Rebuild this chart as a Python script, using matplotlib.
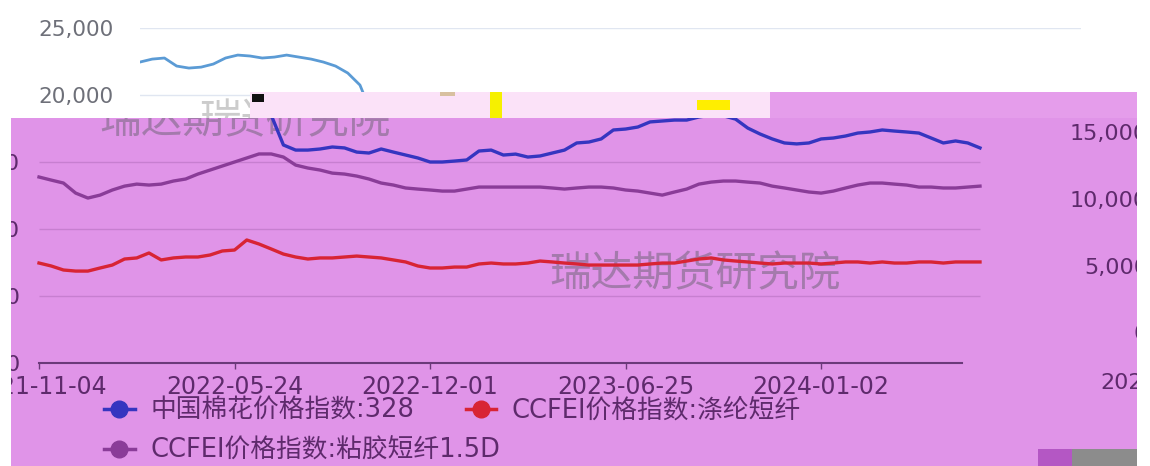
import matplotlib
matplotlib.use("Agg")
import matplotlib.pyplot as plt
from matplotlib.lines import Line2D
from matplotlib.patches import Rectangle
from matplotlib.ticker import FuncFormatter

plt.rcParams['font.family'] = ['DejaVu Sans', 'Noto Sans CJK SC']

# x axis is a category axis: one label every 16 points
tick_labels = ["2021-11-04", "2022-05-24", "2022-12-01", "2023-06-25", "2024-01-02"]
tick_step = 16

names = ["中国棉花价格指数:328", "CCFEI价格指数:涤纶短纤", "CCFEI价格指数:粘胶短纤1.5D"]

cotton = [22460, 22680, 22760, 22160, 22010, 22080, 22310, 22760, 22980, 22910,
          22760, 22830, 22980, 22830, 22680, 22460, 22160, 21640, 20740, 18500,
          16270, 15890, 15890, 15970, 16120, 16050, 15740, 15670, 15970, 15740,
          15520, 15300, 15000, 15000, 15070, 15150, 15820, 15890, 15520, 15590,
          15370, 15450, 15670, 15890, 16420, 16490, 16720, 17390, 17460, 17610,
          17990, 18060, 18130, 18130, 18360, 18500, 18450, 18200, 17530, 17090,
          16720, 16420, 16350, 16420, 16720, 16790, 16940, 17160, 17240, 17390,
          17310, 17240, 17160, 16790, 16420, 16570, 16420, 16050]

polyester = [7460, 7240, 6940, 6860, 6860, 7090, 7310, 7760, 7840, 8210,
             7690, 7840, 7910, 7910, 8060, 8360, 8430, 9180, 8880, 8510,
             8130, 7910, 7760, 7840, 7840, 7910, 7980, 7910, 7840, 7690,
             7540, 7240, 7090, 7090, 7160, 7160, 7390, 7460, 7390, 7390,
             7460, 7610, 7540, 7460, 7390, 7310, 7310, 7310, 7310, 7310,
             7390, 7460, 7460, 7610, 7760, 7840, 7690, 7610, 7540, 7460,
             7390, 7460, 7460, 7460, 7390, 7460, 7540, 7540, 7460, 7540,
             7460, 7460, 7540, 7540, 7460, 7540, 7540, 7540]

viscose = [13880, 13650, 13430, 12680, 12310, 12530, 12910, 13200, 13350, 13280,
           13350, 13580, 13730, 14100, 14400, 14700, 15000, 15300, 15600, 15600,
           15370, 14770, 14550, 14400, 14170, 14100, 13950, 13730, 13430, 13280,
           13060, 12980, 12910, 12830, 12830, 12980, 13130, 13130, 13130, 13130,
           13130, 13130, 13060, 12980, 13060, 13130, 13130, 13060, 12910, 12830,
           12680, 12530, 12760, 12980, 13350, 13500, 13580, 13580, 13500, 13430,
           13200, 13060, 12910, 12760, 12680, 12830, 13060, 13280, 13430, 13430,
           13350, 13280, 13130, 13130, 13060, 13060, 13130, 13200]

W, H = 1150, 466
n = len(cotton)
xs = list(range(n))

VIOLET = '#e094e8'
DARK = '#5e2a6c'
C_BLUE, C_RED, C_PURPLE = '#3535c0', '#d82434', '#8a3c98'


def box(x0, y0, x1, y1):
    # pixel box (y from top) -> figure fraction rect
    return [x0 / W, 1 - y1 / H, (x1 - x0) / W, (y1 - y0) / H]


def patch(fig, x0, y0, x1, y1, color, z=5):
    fig.add_artist(Rectangle((x0 / W, 1 - y1 / H), (x1 - x0) / W, (y1 - y0) / H,
                             transform=fig.transFigure, facecolor=color,
                             edgecolor='none', zorder=z))


fmt = FuncFormatter(lambda v, _: f"{v:,.0f}")
fig = plt.figure(figsize=(W / 100, H / 100), dpi=100)

# ---- original chart (only the top strip is still visible)
left, right, zero_y, top_y = 140, 1081, 363, 28
ax_top = fig.add_axes(box(left, top_y, right, zero_y))
ax_top.set_xlim(0, n - 1)
ax_top.set_ylim(0, 25000)
ax_top.set_yticks(range(0, 25001, 5000))
ax_top.yaxis.set_major_formatter(fmt)
ax_top.set_xticks([])
ax_top.grid(axis='y', color='#e0e6f1', lw=1)
ax_top.tick_params(axis='y', length=0, pad=19, labelsize=15.5, labelcolor='#6e7079')
for s in ax_top.spines.values():
    s.set_visible(False)
ax_top.plot(xs, cotton, color='#5b9bd5', lw=2)
ax_top.plot(xs, polyester, color='#e03030', lw=2)
ax_top.plot(xs, viscose, color='#9a4aa8', lw=2)
fig.text(345 / W, 1 - 122 / H, "瑞达期货研究院", ha='center', va='center',
         fontsize=30, color='#cccccc', family='Noto Sans CJK SC', zorder=0.5)

# ---- violet overlay, shifted copy of the chart
shift = 101
px = (right - left) / (n - 1)
k = (zero_y - top_y) / 25000
x0 = left - shift
ax = fig.add_axes(box(11, 118, 1137, 466), facecolor=VIOLET)
ax.set_zorder(1)
ax.set_xlim((11 - x0) / px, (1137 - x0) / px)
ax.set_ylim((zero_y - 466) / k, (zero_y - 118) / k)
ax.hlines([5000, 10000, 15000], 0, n - 1, color='#c77fd0', lw=1, zorder=1)
ax.plot(xs, cotton, color=C_BLUE, lw=2.4, zorder=3)
ax.plot(xs, polyester, color=C_RED, lw=2.4, zorder=3)
ax.plot(xs, viscose, color=C_PURPLE, lw=2.4, zorder=3)

for s in ['left', 'right', 'top']:
    ax.spines[s].set_visible(False)
ax.spines['bottom'].set_position(('data', 0))
ax.spines['bottom'].set_bounds(0, n - 2.5)
ax.spines['bottom'].set_color('#6b3a7a')
ax.spines['bottom'].set_linewidth(1.5)
ax.set_xticks(range(0, n, tick_step))
ax.set_xticklabels(tick_labels)
ax.tick_params(axis='x', direction='out', length=4, width=1, color='#6b3a7a',
               pad=5, labelsize=17, labelcolor=DARK)
ax.set_yticks([0, 5000, 10000, 15000])
ax.yaxis.set_major_formatter(fmt)
ax.tick_params(axis='y', length=0, pad=-6.5, labelsize=16, labelcolor=DARK)

for cx, cy in [(245, 122), (695, 275)]:
    ax.text(cx / W, 1 - cy / H, "瑞达期货研究院", transform=fig.transFigure,
            ha='center', va='center', fontsize=30, color='#a47aac',
            family='Noto Sans CJK SC', clip_on=True, zorder=2)

# right-hand axis labels (offset copy)
ax_r = ax.twinx()
ax_r.set_zorder(2)
kr = 66.5 / 5000
ax_r.set_ylim((332 - 466) / kr, (332 - 118) / kr)
ax_r.set_yticks([0, 5000, 10000, 15000])
ax_r.yaxis.set_major_formatter(fmt)
ax_r.tick_params(axis='y', length=0, pad=8, labelsize=16, labelcolor=DARK)
plt.setp(ax_r.get_yticklabels(), ha='right')
for s in ax_r.spines.values():
    s.set_visible(False)


def handle(c):
    return Line2D([], [], color=c, lw=2.5, marker='o', markersize=12)


leg_kw = dict(loc='upper left', bbox_transform=fig.transFigure, frameon=False,
              fontsize=18.5, handlelength=1.2, handletextpad=0.6, borderaxespad=0,
              borderpad=0, labelcolor=DARK)
leg1 = ax_r.legend([handle(C_BLUE), handle(C_RED)], [names[0], names[1]], ncol=2,
                   columnspacing=2.0, bbox_to_anchor=(104 / W, 1 - 398 / H), **leg_kw)
ax_r.add_artist(leg1)
ax_r.legend([handle(C_PURPLE)], [names[2]], bbox_to_anchor=(104 / W, 1 - 438 / H), **leg_kw)

fig.text(1100 / W, 1 - 383 / H, "2024-06-", ha='left', va='center', fontsize=16,
         color=DARK, zorder=3)

# glitch band and edges
patch(fig, 250, 92, 770, 118, '#fbe2f8')
patch(fig, 770, 92, 1137, 118, '#e59deb')
patch(fig, 490, 92, 502, 118, '#f6f000', 6)
patch(fig, 697, 100, 730, 110, '#ffee00', 6)
patch(fig, 440, 92, 455, 96, '#d8c0a0', 6)
patch(fig, 252, 94, 264, 102, '#111111', 6)
patch(fig, 0, 118, 11, 466, 'white', 10)
patch(fig, 1137, 92, 1150, 466, 'white', 10)
patch(fig, 1038, 449, 1072, 466, '#b457c4', 11)
patch(fig, 1072, 449, 1137, 466, '#8c8c8c', 11)

fig.savefig("out.png", dpi=100)
